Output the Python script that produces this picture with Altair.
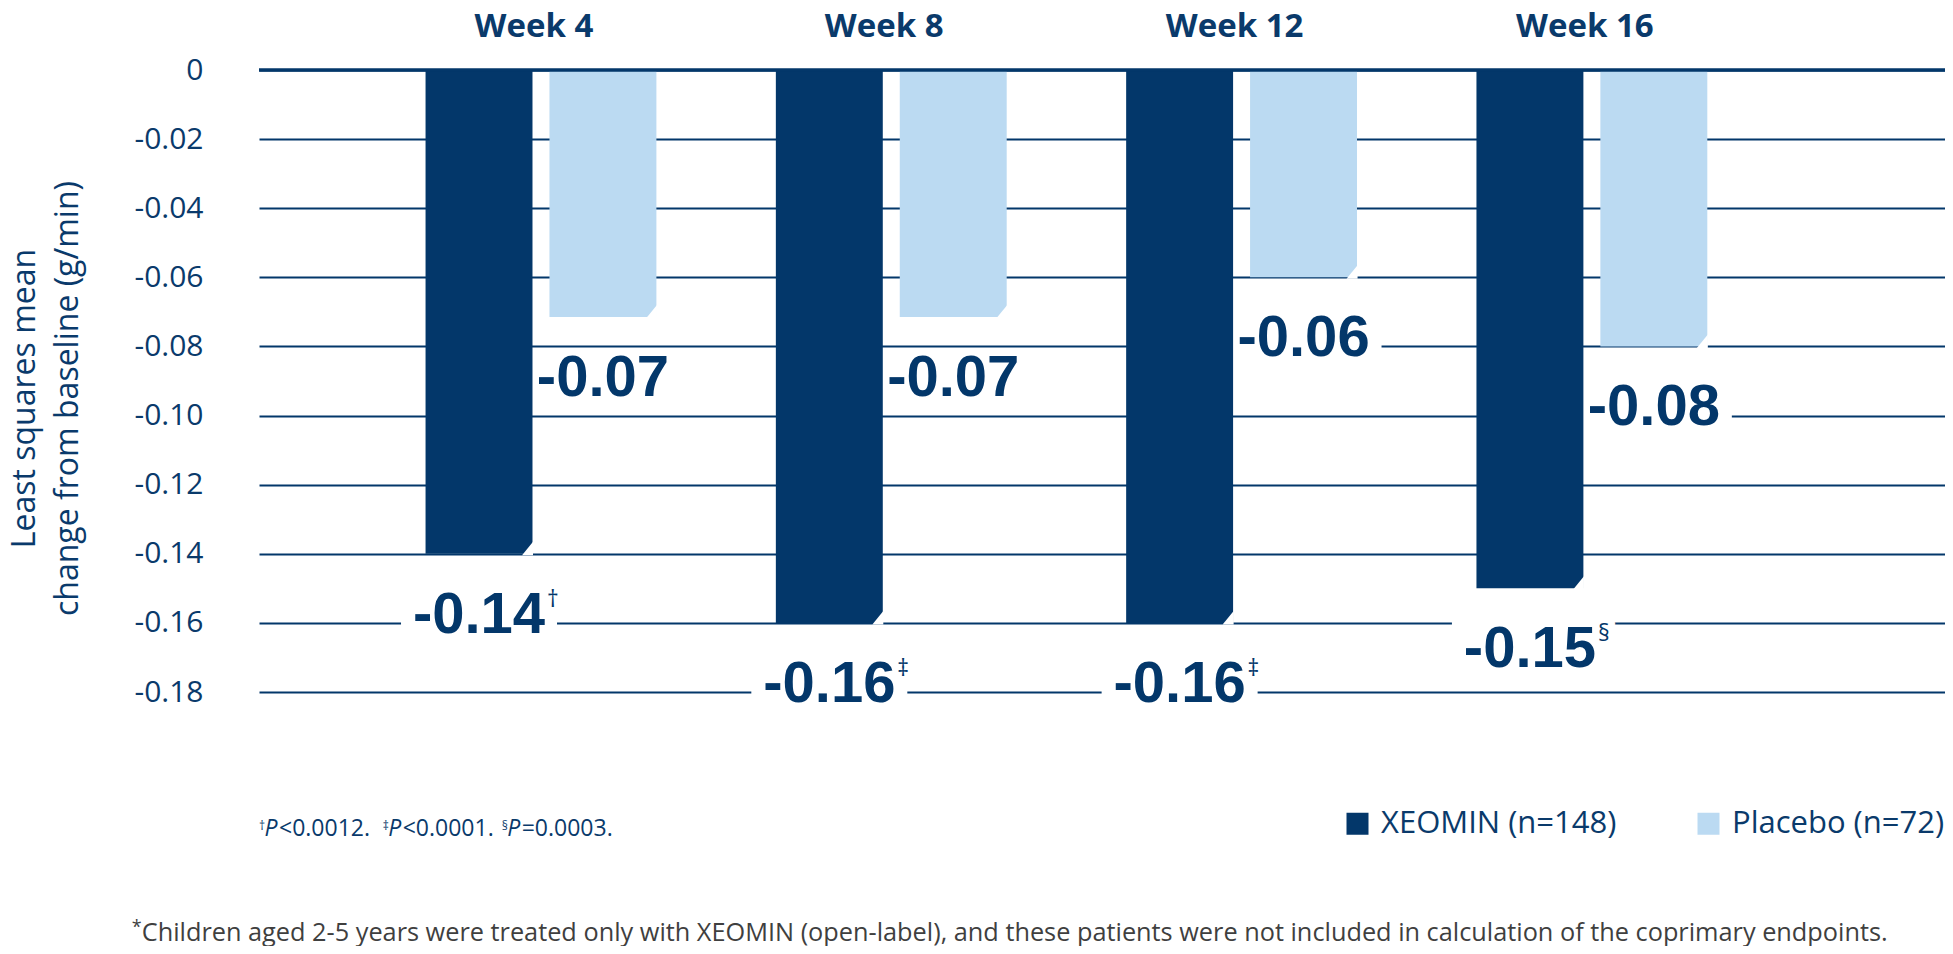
import altair as alt
import pandas as pd

# ---------------- data ----------------
weeks = ["Week 4", "Week 8", "Week 12", "Week 16"]
groups = ["XEOMIN (n=148)", "Placebo (n=72)"]
xeomin_values = [-0.14, -0.16, -0.16, -0.15]
placebo_values = [-0.0715, -0.0715, -0.06, -0.08]
xeomin_labels = ["-0.14", "-0.16", "-0.16", "-0.15"]
placebo_labels = ["-0.07", "-0.07", "-0.06", "-0.08"]
xeomin_marks = ["\u2020", "\u2021", "\u2021", "\u00a7"]
y_ticks = [0, -0.02, -0.04, -0.06, -0.08, -0.10, -0.12, -0.14, -0.16, -0.18]
y_title = ["Least squares mean", "change from baseline (g/min)"]
pvalue_marks = ["\u2020", "\u2021", "\u00a7"]
pvalue_texts = ["<0.0012.", "<0.0001.", "=0.0003."]
asterisk_note = ("Children aged 2-5 years were treated only with XEOMIN (open-label), "
                 "and these patients were not included in calculation of the coprimary endpoints.")

NAVY = "#03376A"
LIGHT = "#BBDAF2"
TEXT = "#0A3A6B"
GRAY = "#3F3F3F"
BIG_FONT = "Liberation Sans, Arial, sans-serif"
FONT = "Open Sans"

rows = []
for i, w in enumerate(weeks):
    rows.append(dict(week=w, group=groups[0], value=xeomin_values[i],
                     label=xeomin_labels[i], sup=xeomin_marks[i]))
    rows.append(dict(week=w, group=groups[1], value=placebo_values[i],
                     label=placebo_labels[i], sup=""))
df = pd.DataFrame(rows)

W, H = 1686, 622

x_enc = alt.X(
    "week:N", sort=weeks,
    scale=alt.Scale(domain=weeks, paddingInner=0.341, paddingOuter=0.577, align=0.412),
    axis=alt.Axis(orient="top", title=None, domain=False, ticks=False, tickSize=0, grid=False,
                  labelAngle=0, labelFont=FONT, labelFontWeight="bold", labelFontSize=33,
                  labelColor=TEXT, labelPadding=34, labelBaseline="alphabetic", labelOffset=-7),
)
xo_enc = alt.XOffset("group:N", sort=groups,
                     scale=alt.Scale(domain=groups, paddingInner=0.137, paddingOuter=0))
y_enc = alt.Y(
    "value:Q",
    scale=alt.Scale(domain=[-0.18, 0], nice=False, zero=True),
    axis=alt.Axis(values=y_ticks, domain=False, ticks=False, tickSize=0, grid=True,
                  gridColor=NAVY, gridWidth=2, gridOpacity=1,
                  labelFont=FONT, labelFontSize=30, labelColor=TEXT, labelPadding=56,
                  labelExpr="datum.value == 0 ? '0' : '-' + format(abs(datum.value), '.2f')",
                  title=y_title, titleFont=FONT, titleFontSize=32, titleFontWeight="normal",
                  titleColor=TEXT, titleLineHeight=43, titleX=-225, titleY=328,
                  titleAngle=270, titleAlign="center", titleBaseline="alphabetic"),
)

base = alt.Chart(df).encode(x=x_enc, xOffset=xo_enc, y=y_enc)

LBL = dict(font=BIG_FONT, fontSize=58, fontWeight="bold", align="center",
           baseline="alphabetic", dy=79)
SUP = dict(font=FONT, fontSize=23, align="left", baseline="alphabetic", dx=68, dy=53)

# white backgrounds behind the value labels (hide the grid lines there)
label_boxes = base.mark_tick(color="white", size=156, thickness=54, yOffset=58, opacity=1)
halo_sups = base.mark_text(fill="white", stroke="white", strokeWidth=14,
                           strokeJoin="round", **SUP).encode(text="sup:N")

bars = base.mark_bar(opacity=1).encode(
    color=alt.Color("group:N", sort=groups,
                    scale=alt.Scale(domain=groups, range=[NAVY, LIGHT]),
                    legend=alt.Legend(orient="none", legendX=1083, legendY=738,
                                      direction="horizontal", title=None, symbolType="square",
                                      symbolSize=484, symbolStrokeWidth=0, symbolOpacity=1,
                                      labelFont=FONT, labelFontSize=31, labelColor=TEXT,
                                      labelOffset=8, labelLimit=500, columnPadding=76,
                                      padding=0))
)

chamfer = base.mark_point(shape="M 54 1.5 L 54 -12 L 43 1.5 Z", size=4, filled=True,
                          fill="white", strokeWidth=0, opacity=1)

labels = base.mark_text(color=NAVY, **LBL).encode(text="label:N")
sups = base.mark_text(color=NAVY, **SUP).encode(text="sup:N")

zero_line = alt.Chart(pd.DataFrame({"v": [0]})).mark_rule(color=NAVY, strokeWidth=3.5).encode(
    y=alt.Y("v:Q"))


def note(text, x, y, size, color=TEXT, style="normal"):
    return alt.Chart(pd.DataFrame({"t": [text]})).mark_text(
        font=FONT, fontSize=size, color=color, align="left", baseline="alphabetic",
        fontStyle=style).encode(x=alt.value(x), y=alt.value(y), text="t:N")


notes = []
mark_x = [0, 123.7, 242.7]
for i in range(3):
    x0 = mark_x[i]
    notes.append(note(pvalue_marks[i], x0, 760, 12))
    notes.append(note("P", x0 + 5.5, 766, 23, style="italic"))
    notes.append(note(pvalue_texts[i], x0 + 20, 766, 23))
notes.append(note("*", -127.3, 863, 18, color=GRAY))
notes.append(note(asterisk_note, -117.3, 871, 25.3, color=GRAY))

chart = alt.layer(label_boxes, halo_sups, bars, chamfer, labels, sups, zero_line, *notes).properties(
    width=W, height=H,
    autosize=alt.AutoSizeParams(type="none"),
    padding={"left": 251, "top": 62, "right": 0, "bottom": 254},
    background="white",
).configure_view(stroke=None)

chart.save("out.html", embed_options={"renderer": "svg", "actions": False})
